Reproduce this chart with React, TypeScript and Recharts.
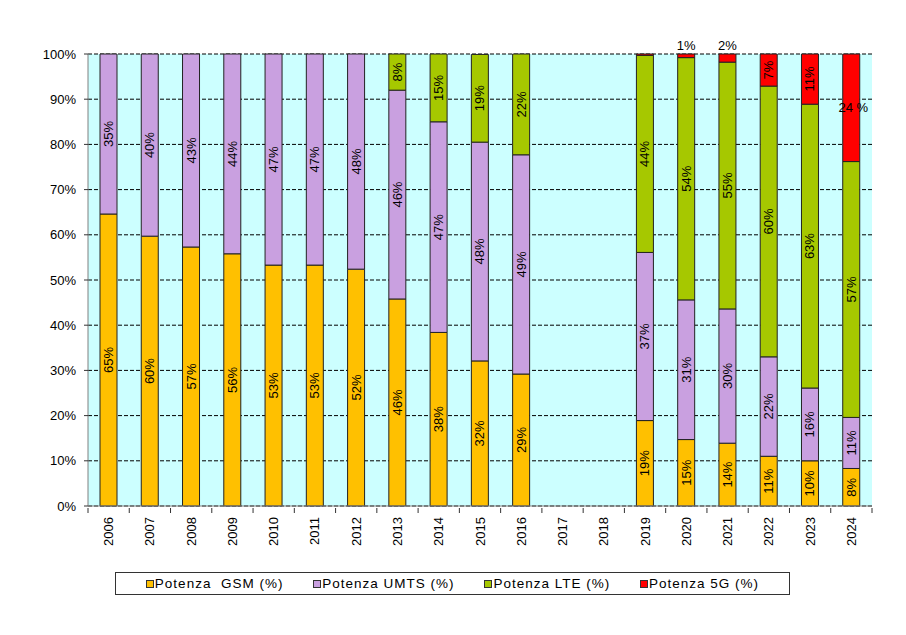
import React from "react"
import { BarChart, Bar, XAxis, YAxis, CartesianGrid, LabelList } from "recharts"

const years = ["2006", "2007", "2008", "2009", "2010", "2011", "2012", "2013", "2014", "2015", "2016", "2017", "2018", "2019", "2020", "2021", "2022", "2023", "2024"]
const gsm = [64.6, 59.7, 57.3, 55.8, 53.3, 53.3, 52.4, 45.8, 38.4, 32.1, 29.2, null, null, 18.9, 14.7, 13.9, 11.0, 10.0, 8.3]
const umts = [35.4, 40.3, 42.7, 44.2, 46.7, 46.7, 47.6, 46.2, 46.6, 48.4, 48.5, null, null, 37.2, 30.9, 29.7, 22.0, 16.1, 11.3]
const lte = [null, null, null, null, null, null, null, 8.0, 15.0, 19.4, 22.3, null, null, 43.6, 53.6, 54.6, 59.9, 62.8, 56.6]
const g5 = [null, null, null, null, null, null, null, null, null, null, null, null, null, 0.3, 0.8, 1.8, 7.1, 11.1, 23.8]
const yTicks = [0, 10, 20, 30, 40, 50, 60, 70, 80, 90, 100]

const series = [
  { key: "gsm", name: "Potenza  GSM (%)", color: "#FFC000" },
  { key: "umts", name: "Potenza UMTS (%)", color: "#C9A0E0" },
  { key: "lte", name: "Potenza LTE (%)", color: "#A6C800" },
  { key: "g5", name: "Potenza 5G (%)", color: "#FF0000" },
]

const data = years.map((year, i) => ({ year, gsm: gsm[i], umts: umts[i], lte: lte[i], g5: g5[i] }))

const W = 906
const H = 635
const margin = { top: 54, right: 34, bottom: 69, left: 0 }
const yAxisWidth = 88
const step = (W - margin.right - yAxisWidth) / years.length
const font = "'Liberation Sans', Arial, sans-serif"

function BarLabel(props: any) {
  const { x, y, width, height, value } = props
  if (value == null) return null
  const v = Math.round(value)
  if (v === 0) return null
  const top = Math.min(y, y + height)
  const h = Math.abs(height)
  const cx = x + width / 2
  const cy = top + h / 2
  if (v < 3) {
    return (
      <text x={cx} y={top - 4} textAnchor="middle" fontSize={13} fill="#000">{v}%</text>
    )
  }
  if (v >= 20 && props.horizontalBig) {
    return (
      <text x={cx + 2} y={cy} textAnchor="middle" dominantBaseline="central" fontSize={13} fill="#000">{v} %</text>
    )
  }
  return (
    <text x={cx} y={cy} transform={`rotate(-90 ${cx} ${cy})`} textAnchor="middle" dominantBaseline="central" fontSize={13} fill="#000">
      {v}%
    </text>
  )
}

function YearTick(props: any) {
  const { x, y, payload, index } = props
  return (
    <g>
      <line x1={x - step / 2} y1={y} x2={x - step / 2} y2={y + 5} stroke="#333" />
      {index === years.length - 1 && <line x1={x + step / 2} y1={y} x2={x + step / 2} y2={y + 5} stroke="#333" />}
      <text x={x} y={y + 9} transform={`rotate(-90 ${x} ${y + 9})`} textAnchor="end" dominantBaseline="central" fontSize={13} fill="#000">
        {payload.value}
      </text>
    </g>
  )
}

export default function App() {
  return (
    <div style={{ position: "absolute", left: 0, top: 0, width: W, height: H, background: "#fff", fontFamily: font }}>
      <BarChart width={W} height={H} data={data} margin={margin} barSize={17} style={{ fontFamily: font }}>
        <CartesianGrid yAxisId="left" vertical={false} stroke="#000" strokeDasharray="4 2" fill="#CCFFFF" fillOpacity={1} />
        <XAxis dataKey="year" axisLine={{ stroke: "#808080" }} tickLine={false} tickSize={0} height={60} interval={0} tick={<YearTick />} />
        <YAxis
          yAxisId="left"
          width={yAxisWidth}
          domain={[0, 100]}
          ticks={yTicks}
          tickFormatter={(v: number) => `${v}%`}
          axisLine={{ stroke: "#808080" }}
          tickLine={{ stroke: "#333" }}
          tickSize={4}
          tickMargin={8}
          tick={{ fontSize: 13, fill: "#000" }}
          interval={0}
        />
        <YAxis yAxisId="right" orientation="right" width={0} domain={[0, 100]} tick={false} tickLine={false} axisLine={{ stroke: "#A0A0A0" }} />
        {series.map((s) => (
          <Bar key={s.key} yAxisId="left" dataKey={s.key} name={s.name} stackId="a" fill={s.color} stroke="#222" strokeWidth={1} isAnimationActive={false}>
            <LabelList dataKey={s.key} content={(p: any) => <BarLabel {...p} horizontalBig={s.key === "g5"} />} />
          </Bar>
        ))}
      </BarChart>
      <div
        style={{
          position: "absolute",
          left: 115,
          top: 572,
          width: 675,
          height: 23,
          border: "1px solid #333",
          display: "flex",
          alignItems: "center",
          justifyContent: "space-evenly",
          fontSize: 13.5,
          letterSpacing: 1,
          boxSizing: "border-box",
        }}
      >
        {series.map((s) => (
          <div key={s.key} style={{ display: "flex", alignItems: "center", whiteSpace: "pre" }}>
            <span style={{ display: "inline-block", width: 6, height: 6, background: s.color, border: "1px solid #333", marginRight: 1 }} />
            {s.name}
          </div>
        ))}
      </div>
    </div>
  )
}
